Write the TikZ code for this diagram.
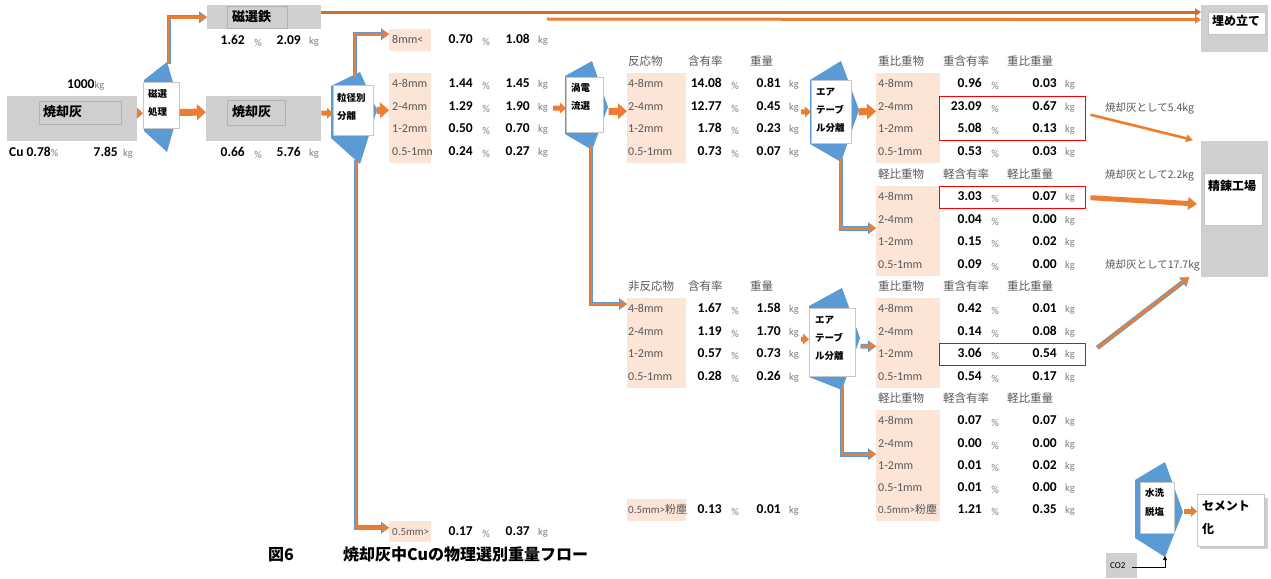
\documentclass[tikz,border=0pt]{standalone}
\usepackage{fontspec}
\setmainfont{Carlito}
\newfontfamily\jp{Noto Sans CJK JP}
\usetikzlibrary{arrows.meta}
\definecolor{ora}{HTML}{ED7D31}
\definecolor{sblue}{HTML}{5B9BD5}
\definecolor{gfill}{HTML}{D0CECE}
\definecolor{pk}{HTML}{FCE4D6}
\definecolor{tgray}{HTML}{595959}
\definecolor{ugray}{HTML}{7F7F7F}
\newcommand\sepshape[8]{\fill[sblue] (#1,#7) -- (#2,#3) -- (#4,#5) -- (#2,#6) -- (#1,#8) -- cycle;}
\newcommand\vals[4]{%
 \node[num] (#1a) at (\vA,#2) {#3};
 \node[unit] (#1p) at (\vA+13,#2) {\%};
 \node[num] (#1b) at (\vB,#2) {#4};
 \node[unit,anchor=mid west] (#1k) at (\vB+8,#2) {kg};}
\newcommand\drow[6]{\node[lab] (#1l) at (#3,#2) {#4};\vals{#1}{#2}{#5}{#6}}
\newcommand\lconn[1]{\draw[lcb] #1; \draw[lco] #1;}
\tikzset{
 txt/.style={inner sep=0pt, yshift=-1.5pt},
 lab/.style={txt, anchor=mid west, text=tgray, font=\fontsize{12}{14}\selectfont},
 slab/.style={txt, anchor=mid west, text=tgray, font=\fontsize{11}{13}\selectfont},
 num/.style={txt, anchor=mid east, font=\fontsize{13.5}{15}\selectfont\bfseries},
 unit/.style={txt, text=ugray, font=\fontsize{10.5}{12}\selectfont},
 hdr/.style={txt, anchor=mid west, text=tgray, font=\jp\fontsize{11.5}{13}\selectfont},
 btx/.style={txt, anchor=mid west, font=\jp\bfseries\fontsize{9.5}{11}\selectfont},
 ttl/.style={txt, anchor=mid west, font=\jp\bfseries\fontsize{13}{15}\selectfont},
 ttls/.style={txt, anchor=mid west, font=\jp\bfseries\fontsize{12}{14}\selectfont},
 note/.style={txt, anchor=mid west, text=tgray, font=\jp\fontsize{10.5}{12}\selectfont},
 captxt/.style={txt, anchor=mid west, font=\jp\bfseries\fontsize{16}{18}\selectfont},
 gb/.style={fill=gfill, draw=none, inner sep=0pt, anchor=north west},
 ib/.style={draw=gray!60, inner sep=0pt, anchor=north west},
 wb/.style={fill=white, draw=gray!45, line width=0.6pt, inner sep=0pt, anchor=north west},
 pkb/.style={fill=pk, draw=none, inner sep=0pt, anchor=north west},
 rbx/.style={draw=red, line width=1.4pt, inner sep=0pt, anchor=north west},
 blk/.style={draw=ora, line width=7pt, -{Triangle[length=9pt,width=16pt,line width=0pt]}},
 blks/.style={draw=ora, line width=5pt, -{Triangle[length=6pt,width=11pt,line width=0pt]}},
 lcb/.style={draw=sblue, line width=4.6pt, -{Triangle[length=8pt,width=12pt,line width=0pt]}},
 lco/.style={draw=ora, line width=2.8pt, -{Triangle[length=6.5pt,width=9pt,line width=0pt]}},
 thinar/.style={draw=ora, line width=2.6pt, -{Triangle[length=7pt,width=8pt,line width=0pt]}},
 topln/.style={draw=ora!88!black, line width=3pt, -{Triangle[length=6pt,width=8pt,line width=0pt]}},
 medar/.style={draw=ora, line width=5pt, -{Triangle[length=9pt,width=13pt,line width=0pt]}},
}
\begin{document}
\begin{tikzpicture}[x=1pt,y=-1pt]
\useasboundingbox (0,0) rectangle (1271,578);
\fill[white] (0,0) rectangle (1271,578);

% pink backgrounds
\node[pkb, minimum width=42, minimum height=22] (pa8) at (389,29) {};
\node[pkb, minimum width=42, minimum height=90] (pa) at (389,73) {};
\node[pkb, minimum width=42, minimum height=21] (pa05) at (389,521) {};
\node[pkb, minimum width=59, minimum height=90] (pb) at (627,73) {};
\node[pkb, minimum width=59, minimum height=90] (pn) at (627,298) {};
\node[pkb, minimum width=59, minimum height=22] (pnd) at (627,499) {};
\node[pkb, minimum width=64, minimum height=90] (pc1) at (876,73) {};
\node[pkb, minimum width=64, minimum height=90] (pc2) at (876,186) {};
\node[pkb, minimum width=64, minimum height=90] (pc3) at (876,298) {};
\node[pkb, minimum width=64, minimum height=111] (pc4) at (876,410) {};

% left input
\node[gb, minimum width=130, minimum height=45] (g1) at (7,96) {};
\node[ib, minimum width=82, minimum height=23] (g1i) at (39,101) {};
\node[ttl] (g1t) at (43,113) {焼却灰};
\node[txt, anchor=mid west] (m1000) at (67,85) {{\bfseries\fontsize{13.5}{15}\selectfont 1000}{\color{ugray}\fontsize{10.5}{12}\selectfont kg}};
\node[num, anchor=mid west] (cu) at (9,153) {Cu 0.78{\mdseries\color{ugray}\fontsize{10.5}{12}\selectfont\%}};
\node[num] (g1a) at (118,153) {7.85};
\node[unit, anchor=mid west] (g1k) at (123,153) {kg};

% magnetic separation
\sepshape{144}{167}{62}{180}{106}{152}{80}{131}
\node[wb, minimum width=36, minimum height=46] (w1) at (143,82) {};
\node[btx] (w1a) at (148,94) {磁選};
\node[btx] (w1b) at (148,112) {処理};

\node[gb, minimum width=114, minimum height=24] (g2) at (207,5) {};
\node[ib, minimum width=60, minimum height=22] (g2i) at (227,6) {};
\node[ttl] (g2t) at (232,18) {磁選鉄};
\def\vA{245}\def\vB{301}
\vals{m}{41}{1.62}{2.09}

\node[gb, minimum width=115, minimum height=45] (g3) at (206,96) {};
\node[ib, minimum width=58, minimum height=25] (g3i) at (227,100) {};
\node[ttl] (g3t) at (232,113) {焼却灰};
\vals{h}{153}{0.66}{5.76}

% size separation
\sepshape{331}{360}{72}{377}{110}{164}{86}{138}
\node[wb, minimum width=40, minimum height=50] (w2) at (333,85) {};
\node[btx] (w2a) at (337,98) {粒径別};
\node[btx] (w2b) at (337,116) {分離};

\def\vA{473}\def\vB{530}
\drow{a8}{40}{392}{8mm<}{0.70}{1.08}
\drow{a48}{84}{392}{4-8mm}{1.44}{1.45}
\drow{a24}{107}{392}{2-4mm}{1.29}{1.90}
\drow{a12}{129}{392}{1-2mm}{0.50}{0.70}
\begin{scope}
\clip (389,140) rectangle (431,165);
\node[lab] (a051l) at (392,152) {0.5-1mm};
\end{scope}
\vals{a051}{152}{0.24}{0.27}
\node[slab] (a05l) at (392,532) {0.5mm>};
\vals{a05}{532}{0.17}{0.37}

% eddy current
\sepshape{565}{592}{61}{608}{107}{150}{76}{134}
\node[wb, minimum width=37, minimum height=55] (w3) at (566,77) {};
\node[btx] (w3a) at (571,88) {渦電};
\node[btx] (w3b) at (571,106) {流選};

\def\vA{722}\def\vB{781}
\node[hdr] (bh1) at (628,62) {反応物};
\node[hdr] (bh2) at (688,62) {含有率};
\node[hdr] (bh3) at (750,62) {重量};
\drow{b48}{84}{628}{4-8mm}{14.08}{0.81}
\drow{b24}{107}{628}{2-4mm}{12.77}{0.45}
\drow{b12}{129}{628}{1-2mm}{1.78}{0.23}
\drow{b051}{152}{628}{0.5-1mm}{0.73}{0.07}

\node[hdr] (nh1) at (628,287) {非反応物};
\node[hdr] (nh2) at (688,287) {含有率};
\node[hdr] (nh3) at (750,287) {重量};
\drow{n48}{309}{628}{4-8mm}{1.67}{1.58}
\drow{n24}{332}{628}{2-4mm}{1.19}{1.70}
\drow{n12}{354}{628}{1-2mm}{0.57}{0.73}
\drow{n051}{377}{628}{0.5-1mm}{0.28}{0.26}
\node[slab] (ndl) at (628,510) {0.5mm>{\jp 粉塵}};
\vals{nd}{510}{0.13}{0.01}

% air table upper
\sepshape{810}{841}{61}{859}{110}{162}{80}{144}
\node[wb, minimum width=40, minimum height=63] (w4) at (811,80) {};
\node[btx] (w4a) at (816,92) {エア};
\node[btx] (w4b) at (816,110) {テーブ};
\node[btx] (w4c) at (816,128) {ル分離};

\def\vA{982}\def\vB{1057}
\node[hdr] (ch1) at (878,62) {重比重物};
\node[hdr] (ch2) at (943,62) {重含有率};
\node[hdr] (ch3) at (1007,62) {重比重量};
\drow{c48}{84}{878}{4-8mm}{0.96}{0.03}
\drow{c24}{107}{878}{2-4mm}{23.09}{0.67}
\drow{c12}{129}{878}{1-2mm}{5.08}{0.13}
\drow{c051}{152}{878}{0.5-1mm}{0.53}{0.03}
\node[hdr] (lh1) at (878,175) {軽比重物};
\node[hdr] (lh2) at (943,175) {軽含有率};
\node[hdr] (lh3) at (1007,175) {軽比重量};
\drow{l48}{197}{878}{4-8mm}{3.03}{0.07}
\drow{l24}{220}{878}{2-4mm}{0.04}{0.00}
\drow{l12}{242}{878}{1-2mm}{0.15}{0.02}
\drow{l051}{265}{878}{0.5-1mm}{0.09}{0.00}

% air table lower
\sepshape{809}{842}{288}{860}{338}{390}{306}{377}
\node[wb, minimum width=46, minimum height=68] (w5) at (809,308) {};
\node[btx] (w5a) at (815,320) {エア};
\node[btx] (w5b) at (815,338) {テーブ};
\node[btx] (w5c) at (815,356) {ル分離};

\node[hdr] (dh1) at (878,287) {重比重物};
\node[hdr] (dh2) at (943,287) {重含有率};
\node[hdr] (dh3) at (1007,287) {重比重量};
\drow{d48}{309}{878}{4-8mm}{0.42}{0.01}
\drow{d24}{332}{878}{2-4mm}{0.14}{0.08}
\drow{d12}{354}{878}{1-2mm}{3.06}{0.54}
\drow{d051}{377}{878}{0.5-1mm}{0.54}{0.17}
\node[hdr] (eh1) at (878,399) {軽比重物};
\node[hdr] (eh2) at (943,399) {軽含有率};
\node[hdr] (eh3) at (1007,399) {軽比重量};
\drow{e48}{421}{878}{4-8mm}{0.07}{0.07}
\drow{e24}{444}{878}{2-4mm}{0.00}{0.00}
\drow{e12}{466}{878}{1-2mm}{0.01}{0.02}
\drow{e051}{488}{878}{0.5-1mm}{0.01}{0.00}
\node[slab] (edl) at (878,510) {0.5mm>{\jp 粉塵}};
\vals{ed}{510}{1.21}{0.35}

% red boxes
\node[rbx, minimum width=146, minimum height=44] (rb1) at (939,96) {};
\node[rbx, minimum width=146, minimum height=22] (rb2) at (939,186) {};
\node[rbx, minimum width=146, minimum height=22] (rb3) at (939,343) {};

% notes
\node[note] (n1) at (1105,108) {焼却灰として5.4kg};
\node[note] (n2) at (1105,175) {焼却灰として2.2kg};
\node[note] (n3) at (1105,265) {焼却灰として17.7kg};

% right boxes
\node[gb, minimum width=67, minimum height=47] (g4) at (1201,5) {};
\node[wb, minimum width=57, minimum height=22] (g4i) at (1208,12) {};
\node[ttls] (g4t) at (1212,22) {埋め立て};
\node[gb, minimum width=67, minimum height=136] (g5) at (1201,141) {};
\node[wb, minimum width=58, minimum height=52] (g5i) at (1204,173) {};
\node[ttls] (g5t) at (1208,187) {精錬工場};

% washing / cement
\sepshape{1135}{1165}{462}{1183}{512}{557}{480}{538}
\node[wb, minimum width=34, minimum height=51] (w6) at (1140,482) {};
\node[btx] (w6a) at (1145,493) {水洗};
\node[btx] (w6b) at (1145,512) {脱塩};
\node[gb, minimum width=68, minimum height=51] (cemb) at (1200,498) {};
\node[wb, minimum width=67, minimum height=52] (cem) at (1197,494) {};
\node[ttls] (cema) at (1202,507) {セメント};
\node[ttls] (cemb2) at (1202,530) {化};
\node[gb, minimum width=31, minimum height=25] (co2) at (1106,553) {};
\node[txt, anchor=mid west, font=\fontsize{9}{10}\selectfont] (co2t) at (1110,565) {CO2};

% caption
\node[captxt] (cap1) at (268,557) {図6};
\node[captxt] (cap2) at (343,557) {焼却灰中Cuの物理選別重量フロー};

% coordinates for free ends
\coordinate (s1top) at (169,64);
\coordinate (s2top) at (355,78);
\coordinate (s2bot) at (356,160);
\coordinate (s3bot) at (591,146);
\coordinate (s4bot) at (841,158);
\coordinate (s5bot) at (842,386);
\coordinate (a4s) at (553,108);
\coordinate (a6s) at (801,112);
\coordinate (a8s) at (801,339);
\coordinate (t2s) at (547,19);
\coordinate (co2s) at (1132,567);
\coordinate (s6bot) at (1165,556);

% block arrows
\draw[blks] ([yshift=5.5pt]g1.east) -- ([yshift=-8pt]w1.west);
\draw[blk] ([yshift=-7pt]w1.east) -- ([yshift=6.5pt]g3.west);
\draw[blks] ([yshift=5.5pt]g3.east) -- ([yshift=-3pt]w2.west);
\draw[blk] ([xshift=3pt]w2.east) -- ([yshift=8pt]pa.west);
\draw[blks] (a4s) -- ([yshift=-3.5pt]w3.west);
\draw[blk] ([shift={(5pt,-6.5pt)}]w3.east) -- ([yshift=7pt]pb.west);
\draw[blks] (a6s) -- (w4.west);
\draw[blk] ([xshift=7pt]w4.east) -- ([yshift=7pt]pc1.west);
\draw[blks] (a8s) -- ([yshift=3pt]w5.west);
\lconn{([shift={(5pt,-4pt)}]w5.east) -- ([yshift=-3pt]pc3.west)}
\draw[blks] ([shift={(9pt,-3.5pt)}]w6.east) -- ([yshift=9pt]cem.west);

% L connectors
\lconn{(s1top) |- (g2.west)}
\lconn{(s2top) |- ([yshift=6pt]pa8.west)}
\lconn{(s2bot) |- ([yshift=4pt]pa05.west)}
\lconn{(s3bot) |- ([yshift=-6pt]pn.north west)}
\lconn{(s4bot) |- ([yshift=3pt]pc2.west)}
\lconn{(s5bot) |- ([yshift=11.5pt]pc4.west)}

% top lines
\draw[topln] ([yshift=5pt]g2.east) -- ([yshift=16.5pt]g4.west);
\draw[topln, draw=ora] (t2s) -- ([yshift=9pt]g4.west);

% to smelter
\draw[thinar] ([shift={(4pt,4pt)}]rb1.east) -- ([shift={(-8pt,1pt)}]g5.north west);
\draw[medar] ([xshift=4pt]rb2.east) -- ([shift={(-4pt,-63pt)}]g5.north west);
\lconn{([shift={(11pt,7pt)}]rb3.east) -- ([xshift=-12pt]g5.south west)}

% CO2
\draw[black, line width=0.9pt, -{Triangle[length=4pt,width=4pt]}] (co2s) -| (s6bot);
\end{tikzpicture}
\end{document}
